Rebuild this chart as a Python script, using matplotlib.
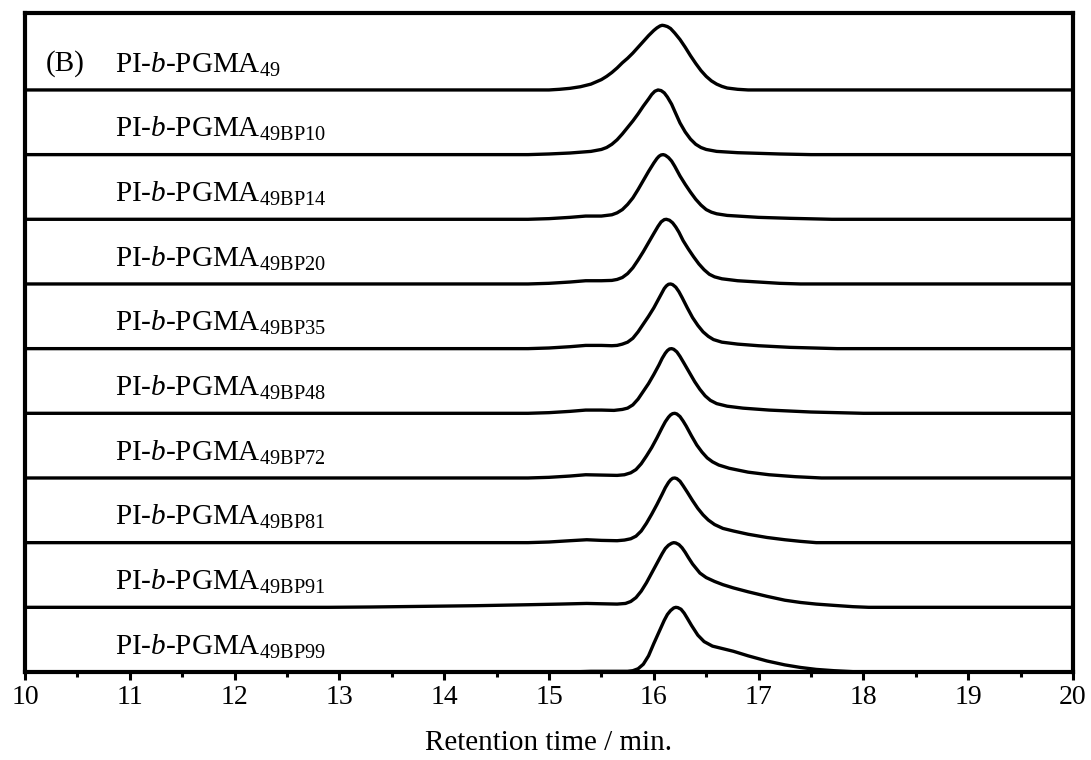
import matplotlib
matplotlib.use("Agg")
import matplotlib.pyplot as plt
from matplotlib.ticker import MultipleLocator

plt.rcParams['font.family'] = ['Liberation Serif', 'DejaVu Serif']
plt.rcParams['mathtext.fontset'] = 'custom'
plt.rcParams['mathtext.rm'] = 'Liberation Serif'
plt.rcParams['mathtext.it'] = 'Liberation Serif:italic'
plt.rcParams['mathtext.bf'] = 'Liberation Serif:bold'

# ---- data (retention time / min, normalised detector response) ----
subscripts = ['49', '49BP10', '49BP14', '49BP20', '49BP35',
              '49BP48', '49BP72', '49BP81', '49BP91', '49BP99']

t1 = [10, 15.0, 15.1, 15.2, 15.3, 15.4, 15.5, 15.55, 15.6, 15.65, 15.7, 15.75, 15.8, 15.85, 15.9, 15.95,
      16.0, 16.03, 16.06, 16.08, 16.1, 16.13, 16.16, 16.2, 16.25, 16.3, 16.35, 16.4, 16.45, 16.5, 16.55,
      16.6, 16.65, 16.7, 16.8, 16.9, 20]
y1 = [0, 0.0, 0.01, 0.025, 0.05, 0.09, 0.16, 0.21, 0.27, 0.34, 0.42, 0.49, 0.57, 0.66, 0.75, 0.84,
      0.92, 0.96, 0.99, 1.0, 0.995, 0.98, 0.95, 0.88, 0.78, 0.66, 0.53, 0.41, 0.30, 0.21, 0.14,
      0.09, 0.055, 0.03, 0.01, 0.0, 0]

t2 = [10, 14.8, 15.0, 15.2, 15.4, 15.5, 15.55, 15.6, 15.65, 15.7, 15.75, 15.8, 15.85, 15.9, 15.95, 15.98,
      16.01, 16.04, 16.07, 16.1, 16.13, 16.17, 16.2, 16.25, 16.3, 16.35, 16.4, 16.45, 16.5, 16.6, 16.8,
      17.0, 17.2, 17.5, 20]
y2 = [0, 0.0, 0.01, 0.025, 0.05, 0.08, 0.11, 0.16, 0.23, 0.32, 0.42, 0.52, 0.63, 0.75, 0.86, 0.93,
      0.98, 1.0, 0.99, 0.955, 0.89, 0.78, 0.67, 0.49, 0.35, 0.24, 0.16, 0.11, 0.08, 0.05, 0.03,
      0.02, 0.01, 0.0, 0]

t3 = [10, 14.8, 15.0, 15.2, 15.35, 15.5, 15.6, 15.65, 15.7, 15.75, 15.8, 15.85, 15.9, 15.95, 16.0, 16.03,
      16.05, 16.07, 16.09, 16.11, 16.14, 16.17, 16.2, 16.25, 16.3, 16.35, 16.4, 16.45, 16.5, 16.55,
      16.6, 16.7, 16.85, 17.0, 17.3, 17.7, 20]
y3 = [0, 0.0, 0.01, 0.03, 0.05, 0.05, 0.07, 0.10, 0.15, 0.23, 0.33, 0.46, 0.60, 0.74, 0.87, 0.94,
      0.975, 0.995, 1.0, 0.99, 0.955, 0.90, 0.82, 0.67, 0.54, 0.42, 0.31, 0.22, 0.15, 0.11,
      0.085, 0.06, 0.045, 0.03, 0.015, 0.0, 0]

t4 = [10, 14.8, 15.0, 15.2, 15.35, 15.5, 15.6, 15.65, 15.7, 15.75, 15.8, 15.85, 15.9, 15.95, 16.0, 16.04,
      16.07, 16.1, 16.12, 16.15, 16.18, 16.21, 16.24, 16.28, 16.33, 16.38, 16.43, 16.48, 16.53, 16.58,
      16.65, 16.8, 17.0, 17.2, 17.4, 20]
y4 = [0, 0.0, 0.01, 0.03, 0.05, 0.05, 0.055, 0.07, 0.10, 0.16, 0.25, 0.37, 0.50, 0.64, 0.78, 0.89,
      0.96, 0.995, 1.0, 0.985, 0.945, 0.88, 0.80, 0.67, 0.54, 0.42, 0.31, 0.22, 0.15, 0.11,
      0.08, 0.05, 0.03, 0.01, 0.0, 0]

t5 = [10, 14.8, 15.0, 15.2, 15.35, 15.5, 15.6, 15.65, 15.7, 15.75, 15.8, 15.85, 15.9, 15.95, 16.0, 16.05,
      16.08, 16.1, 16.12, 16.14, 16.16, 16.18, 16.21, 16.24, 16.27, 16.32, 16.37, 16.42, 16.47, 16.52,
      16.57, 16.65, 16.8, 17.0, 17.3, 17.75, 20]
y5 = [0, 0.0, 0.01, 0.03, 0.05, 0.05, 0.045, 0.05, 0.07, 0.10, 0.16, 0.26, 0.38, 0.50, 0.63, 0.78,
      0.87, 0.93, 0.97, 0.995, 1.0, 0.99, 0.95, 0.88, 0.79, 0.63, 0.48, 0.36, 0.26, 0.19,
      0.14, 0.10, 0.07, 0.045, 0.02, 0.0, 0]

t6 = [10, 14.8, 15.0, 15.2, 15.35, 15.5, 15.62, 15.7, 15.75, 15.8, 15.85, 15.9, 15.95, 16.0, 16.05, 16.08,
      16.11, 16.13, 16.15, 16.17, 16.19, 16.22, 16.25, 16.29, 16.34, 16.39, 16.44, 16.49, 16.54, 16.6,
      16.7, 16.85, 17.1, 17.5, 18.0, 20]
y6 = [0, 0.0, 0.01, 0.03, 0.05, 0.05, 0.045, 0.06, 0.08, 0.13, 0.22, 0.34, 0.46, 0.60, 0.75, 0.85,
      0.93, 0.97, 0.995, 1.0, 0.99, 0.95, 0.88, 0.77, 0.63, 0.49, 0.37, 0.27, 0.20, 0.15,
      0.11, 0.08, 0.05, 0.02, 0.0, 0]

t7 = [10, 14.8, 15.0, 15.2, 15.35, 15.5, 15.65, 15.72, 15.78, 15.83, 15.88, 15.93, 15.98, 16.03, 16.08,
      16.11, 16.14, 16.16, 16.18, 16.2, 16.22, 16.25, 16.28, 16.31, 16.36, 16.41, 16.46, 16.51, 16.56,
      16.62, 16.72, 16.9, 17.1, 17.35, 17.6, 20]
y7 = [0, 0.0, 0.01, 0.03, 0.05, 0.045, 0.04, 0.05, 0.08, 0.13, 0.22, 0.34, 0.47, 0.62, 0.78,
      0.87, 0.94, 0.975, 0.995, 1.0, 0.99, 0.95, 0.88, 0.80, 0.65, 0.51, 0.40, 0.31, 0.25,
      0.20, 0.15, 0.09, 0.05, 0.02, 0.0, 0]

t8 = [10, 14.8, 15.0, 15.2, 15.36, 15.5, 15.65, 15.72, 15.78, 15.83, 15.88, 15.93, 15.98, 16.03, 16.08,
      16.11, 16.14, 16.16, 16.18, 16.2, 16.22, 16.25, 16.28, 16.32, 16.37, 16.42, 16.47, 16.52, 16.58,
      16.66, 16.76, 16.9, 17.08, 17.25, 17.4, 17.55, 20]
y8 = [0, 0.0, 0.01, 0.03, 0.045, 0.035, 0.03, 0.04, 0.06, 0.10, 0.18, 0.30, 0.44, 0.59, 0.75,
      0.85, 0.93, 0.97, 0.995, 1.0, 0.99, 0.95, 0.88, 0.78, 0.65, 0.53, 0.43, 0.35, 0.28,
      0.22, 0.18, 0.13, 0.08, 0.045, 0.02, 0.0, 0]

t9 = [10, 12.9, 13.3, 13.8, 14.3, 14.8, 15.1, 15.36, 15.5, 15.65, 15.73, 15.78, 15.83, 15.88, 15.93,
      15.98, 16.03, 16.08, 16.11, 16.14, 16.17, 16.19, 16.21, 16.24, 16.27, 16.3, 16.33, 16.37, 16.44,
      16.5, 16.58, 16.66, 16.76, 16.9, 17.08, 17.25, 17.4, 17.55, 17.72, 17.9, 18.05, 20]
y9 = [0, 0.0, 0.005, 0.015, 0.025, 0.04, 0.05, 0.06, 0.055, 0.05, 0.06, 0.09, 0.15, 0.25, 0.38,
      0.53, 0.68, 0.83, 0.91, 0.96, 0.99, 1.0, 0.995, 0.97, 0.92, 0.85, 0.77, 0.67, 0.53,
      0.46, 0.40, 0.35, 0.30, 0.24, 0.17, 0.11, 0.075, 0.05, 0.03, 0.01, 0.0, 0]

t10 = [10, 15.2, 15.4, 15.6, 15.75, 15.8, 15.85, 15.9, 15.95, 16.0, 16.05, 16.1, 16.13, 16.16, 16.19,
       16.21, 16.23, 16.26, 16.29, 16.32, 16.36, 16.42, 16.48, 16.56, 16.66, 16.76, 16.9, 17.08, 17.25,
       17.4, 17.55, 17.72, 17.9, 18.1, 20]
y10 = [0, 0.0, 0.01, 0.01, 0.01, 0.02, 0.05, 0.12, 0.25, 0.44, 0.62, 0.80, 0.89, 0.95, 0.99,
       1.0, 0.995, 0.97, 0.91, 0.83, 0.72, 0.57, 0.47, 0.40, 0.36, 0.32, 0.25, 0.17, 0.11,
       0.07, 0.04, 0.02, 0.005, 0.0, 0]

times = [t1, t2, t3, t4, t5, t6, t7, t8, t9, t10]
signals = [y1, y2, y3, y4, y5, y6, y7, y8, y9, y10]

# ---- figure ----
fig = plt.figure(figsize=(10.91, 7.60), dpi=100)
ax = fig.add_axes([0.0229, 0.1158, 0.9606, 0.8671])

n = len(signals)
for i, (t, y) in enumerate(zip(times, signals)):
    off = (n - 1 - i)
    ax.plot(t, [v + off for v in y], color='black', lw=2.4,
            solid_joinstyle='round', solid_capstyle='butt')
    ax.text(10.86, off + 0.27, r'PI-$\it{b}$-PGMA$_{\mathrm{' + subscripts[i] + '}}$',
            fontsize=21, va='baseline', ha='left')

ax.text(10.2, 9 + 0.3, '(B)', fontsize=21, va='baseline', ha='left')

ax.set_xlim(10, 20)
ax.set_ylim(0, 10.19)
ax.set_yticks([])
ax.xaxis.set_major_locator(MultipleLocator(1))
ax.xaxis.set_minor_locator(MultipleLocator(0.5))
ax.tick_params(axis='x', which='major', direction='out', length=5.5, width=2.2,
               labelsize=20, pad=4)
ax.tick_params(axis='x', which='minor', direction='out', length=3.5, width=2.2)
for s in ax.spines.values():
    s.set_linewidth(3.0)
ax.set_xlabel('Retention time / min.', fontsize=21, labelpad=14)

fig.savefig('out.png', dpi=100)
